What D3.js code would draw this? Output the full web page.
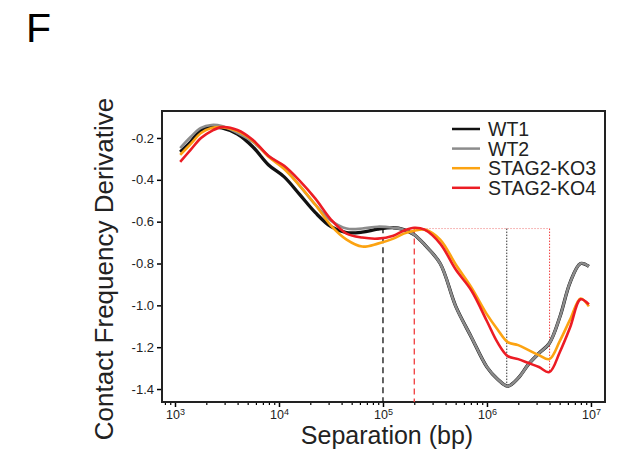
<!DOCTYPE html>
<html>
<head>
<meta charset="utf-8">
<script src="https://cdn.jsdelivr.net/npm/d3@7"></script>
<style>
body { margin: 0; background: #fff; }
svg { font-family: "Liberation Sans", Arial, sans-serif; }
</style>
</head>
<body>
<svg id="chart" width="619" height="456"></svg>
<script>
// separation as log10(bp)
var sepLog = [3.05, 3.15, 3.25, 3.35, 3.45, 3.6, 3.75, 3.9, 4.05, 4.2, 4.35, 4.5, 4.65, 4.8, 4.95,
              5.1, 5.2, 5.3, 5.4, 5.55, 5.7, 5.85, 6.0, 6.1, 6.2, 6.3, 6.4, 6.5, 6.6, 6.7, 6.8, 6.9, 6.98];

var wt1 = [-0.267, -0.219, -0.162, -0.148, -0.152, -0.181, -0.243, -0.329, -0.386, -0.471, -0.557, -0.624, -0.652, -0.650, -0.636,
           -0.629, -0.638, -0.662, -0.710, -0.800, -1.005, -1.152, -1.295, -1.352, -1.386, -1.348, -1.281, -1.229, -1.181, -1.057, -0.890, -0.800, -0.814];
var wt2 = [-0.248, -0.195, -0.152, -0.138, -0.143, -0.176, -0.219, -0.286, -0.343, -0.429, -0.519, -0.595, -0.633, -0.633, -0.624,
           -0.629, -0.638, -0.662, -0.710, -0.800, -1.005, -1.152, -1.295, -1.352, -1.386, -1.348, -1.281, -1.229, -1.181, -1.057, -0.890, -0.800, -0.814];
var ko3 = [-0.281, -0.229, -0.176, -0.152, -0.148, -0.167, -0.214, -0.290, -0.348, -0.429, -0.519, -0.619, -0.686, -0.719, -0.705,
           -0.681, -0.657, -0.643, -0.638, -0.686, -0.805, -0.914, -1.043, -1.114, -1.176, -1.190, -1.214, -1.238, -1.257, -1.171, -1.067, -0.967, -1.005];
var ko4 = [-0.314, -0.257, -0.200, -0.167, -0.148, -0.162, -0.210, -0.286, -0.333, -0.405, -0.490, -0.590, -0.657, -0.676, -0.681,
           -0.667, -0.643, -0.629, -0.638, -0.705, -0.829, -0.929, -1.076, -1.176, -1.243, -1.257, -1.276, -1.295, -1.319, -1.224, -1.105, -0.971, -0.995];

var seriesNames = ["WT1", "WT2", "STAG2-KO3", "STAG2-KO4"];
var seriesColors = ["#111111", "#8c8c8c", "#fca311", "#ec1c24"];

var yTicks = [-1.4, -1.2, -1.0, -0.8, -0.6, -0.4, -0.2];
var xTickExp = [3, 4, 5, 6, 7];

// marker lines: peak and minimum positions (bp) and level
var wtPeakBp = 1e5, koPeakBp = 2e5, peakLevel = -0.633;
var wtMinBp = 1.55e6, wtMinVal = -1.386;
var koMinBp = 4e6, koMinVal = -1.319;
var wtPeakVal = -0.627;

var svg = d3.select("#chart");
var margin = {top: 111, right: 14, bottom: 54, left: 162};
var width = 619 - margin.left - margin.right;
var height = 456 - margin.top - margin.bottom;

var x = d3.scaleLog().domain([Math.pow(10, 2.875), Math.pow(10, 7.135)]).range([0, width]);
var y = d3.scaleLinear().domain([-1.462, -0.071]).range([height, 0]);

var g = svg.append("g").attr("transform", "translate(" + margin.left + "," + margin.top + ")");

svg.append("text").attr("x", 26).attr("y", 42).style("font-size", "41px").text("F");

// minor x ticks
var minor = [];
for (var e = 2; e <= 7; e++) for (var m = 1; m < 10; m++) {
  var v = m * Math.pow(10, e);
  if (m > 1 && v > x.domain()[0] && v < x.domain()[1]) minor.push(v);
}
g.append("g").attr("transform", "translate(0," + height + ")")
  .call(d3.axisBottom(x).tickValues(minor).tickSize(3).tickFormat(""))
  .call(function(s) { s.select(".domain").remove(); s.selectAll("line").attr("stroke-width", 1.2); });

var xAxis = g.append("g").attr("transform", "translate(0," + height + ")")
  .call(d3.axisBottom(x).tickValues(xTickExp.map(function(d) { return Math.pow(10, d); })).tickSize(5).tickFormat(""));
xAxis.select(".domain").remove();
xAxis.selectAll("line").attr("stroke-width", 1.5);
xAxis.selectAll(".tick").append("text")
  .attr("y", 17).attr("fill", "#222").style("font-size", "12.5px").attr("text-anchor", "middle")
  .each(function(d) {
    var t = d3.select(this);
    t.append("tspan").text("10");
    t.append("tspan").attr("dy", "-0.45em").style("font-size", "9px").text(Math.round(Math.log10(d)));
  });

var yAxis = g.append("g")
  .call(d3.axisLeft(y).tickValues(yTicks).tickSize(5).tickFormat(function(d) { return d.toFixed(1); }));
yAxis.select(".domain").remove();
yAxis.selectAll("line").attr("stroke-width", 1.5);
yAxis.selectAll("text").attr("fill", "#222").style("font-size", "13px").attr("x", -8);

// frame
g.append("rect").attr("width", width).attr("height", height)
  .attr("fill", "none").attr("stroke", "#222").attr("stroke-width", 2);

// marker lines
g.append("line").attr("x1", x(wtPeakBp)).attr("x2", x(wtPeakBp)).attr("y1", y(wtPeakVal)).attr("y2", height)
  .attr("stroke", "#111").attr("stroke-width", 1.3).attr("stroke-dasharray", "6,4");
g.append("line").attr("x1", x(koPeakBp)).attr("x2", x(koPeakBp)).attr("y1", y(peakLevel)).attr("y2", height)
  .attr("stroke", "#f03c3c").attr("stroke-width", 1.3).attr("stroke-dasharray", "6,4");
g.append("line").attr("x1", x(koPeakBp)).attr("x2", x(koMinBp)).attr("y1", y(peakLevel)).attr("y2", y(peakLevel))
  .attr("stroke", "#f4a0a0").attr("stroke-width", 1).attr("stroke-dasharray", "1.5,1.5");
g.append("line").attr("x1", x(wtMinBp)).attr("x2", x(wtMinBp)).attr("y1", y(peakLevel)).attr("y2", y(wtMinVal))
  .attr("stroke", "#333").attr("stroke-width", 1).attr("stroke-dasharray", "1.5,1.5");
g.append("line").attr("x1", x(koMinBp)).attr("x2", x(koMinBp)).attr("y1", y(peakLevel)).attr("y2", y(koMinVal))
  .attr("stroke", "#f03c3c").attr("stroke-width", 1).attr("stroke-dasharray", "1.5,1.5");

var line = d3.line()
  .curve(d3.curveCatmullRom.alpha(0.5))
  .x(function(d) { return x(Math.pow(10, d[0])); })
  .y(function(d) { return y(d[1]); });

var allSeries = [wt1, wt2, ko3, ko4];
allSeries.forEach(function(vals, i) {
  g.append("path")
    .datum(vals.map(function(v, j) { return [sepLog[j], v]; }))
    .attr("fill", "none")
    .attr("stroke", seriesColors[i])
    .attr("stroke-width", i == 0 ? 3.3 : 2.6)
    .attr("d", line);
});

// legend
var legend = g.append("g").attr("transform", "translate(290,18)");
seriesNames.forEach(function(name, i) {
  var row = legend.append("g").attr("transform", "translate(0," + (i * 19.6) + ")");
  row.append("line").attr("x1", 0).attr("x2", 28).attr("stroke", seriesColors[i]).attr("stroke-width", 2.5);
  row.append("text").attr("x", 36).attr("y", 7).attr("fill", "#222").style("font-size", "19.5px").text(name);
});

// axis labels
svg.append("text")
  .attr("x", 387).attr("y", 444)
  .attr("text-anchor", "middle").attr("fill", "#222").style("font-size", "25px")
  .text("Separation (bp)");
svg.append("text")
  .attr("transform", "translate(113,269) rotate(-90)")
  .attr("text-anchor", "middle").attr("fill", "#222").style("font-size", "26px")
  .text("Contact Frequency Derivative");
</script>
</body>
</html>
